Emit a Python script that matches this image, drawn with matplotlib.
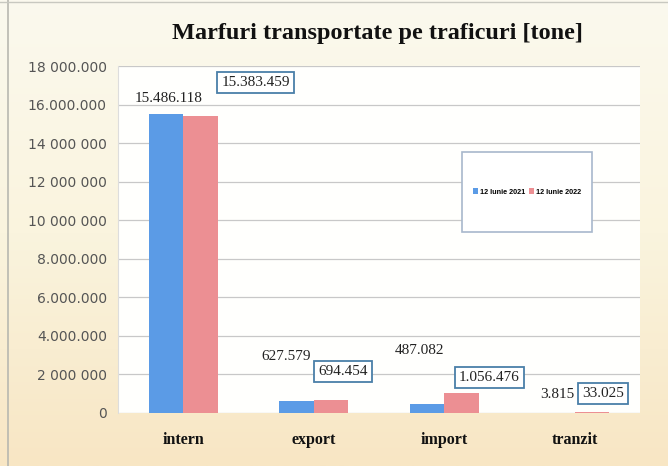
import matplotlib
matplotlib.use("Agg")
import matplotlib.pyplot as plt
import numpy as np
from matplotlib.colors import LinearSegmentedColormap
from matplotlib.patches import Rectangle

categories = ["intern", "export", "import", "tranzit"]
series_names = ["12 Iunie 2021", "12 Iunie 2022"]
values_2021 = [15486118, 627579, 487082, 3815]
values_2022 = [15383459, 694454, 1056476, 33025]
labels_2021 = ["15.486.118", "627.579", "487.082", "3.815"]
labels_2022 = ["15.383.459", "694.454", "1.056.476", "33.025"]
yticks = [0, 2000000, 4000000, 6000000, 8000000, 10000000, 12000000, 14000000, 16000000, 18000000]
ytick_labels = ["0", "2 000 000", "4.000.000", "6.000.000", "8.000.000",
                "10 000 000", "12 000 000", "14 000 000", "16.000.000", "18 000.000"]
title = "Marfuri transportate pe traficuri [tone]"

# label offsets in pixels (style)
off_2021 = [(3, 16), (-10, 44), (-7, 53), (0, 18)]
off_2022 = [(55, 34), (12, 28), (28, 15), (11, 19)]

blue = "#5b9be6"
red = "#ec8f93"

fig = plt.figure(figsize=(6.68, 4.66), dpi=100)

# background gradient
bg = fig.add_axes([0, 0, 1, 1], zorder=-10)
cmap = LinearSegmentedColormap.from_list("bg", ["#fbf9ee", "#faf4de", "#f8e6c4"])
grad = np.linspace(0, 1, 256).reshape(-1, 1)
bg.imshow(grad, aspect="auto", cmap=cmap, extent=[0, 1, 0, 1], origin="upper")
bg.axvline(0.012, color="#b8b8b0", lw=1.2)
bg.axhline(0.995, color="#c8c8c0", lw=1.0)
bg.set_xlim(0, 1); bg.set_ylim(0, 1)
bg.axis("off")

ax = fig.add_axes([118/668, 1-413/466, 522/668, 347/466])
ax.set_facecolor("#fffffd")
x = np.arange(len(categories))
w = 0.265
ax.bar(x - w/2, values_2021, w, color=blue, label=series_names[0], zorder=3)
ax.bar(x + w/2, values_2022, w, color=red, label=series_names[1], zorder=3)

ax.set_xlim(-0.5, len(categories) - 0.5)
ax.set_ylim(0, 18000000)
ax.set_yticks(yticks)
ax.set_yticklabels(ytick_labels, fontsize=10, color="#555555", family="DejaVu Sans")
ax.set_xticks(x)
ax.set_xticklabels(categories, fontsize=11.5, fontweight="bold", family="Liberation Serif", color="#111111")
ax.tick_params(axis="both", length=0, pad=8)
ax.tick_params(axis="x", pad=14)
ax.yaxis.grid(True, color="#c8c8c8", lw=0.9, zorder=0)
for s in ax.spines.values():
    s.set_visible(False)
ax.spines["left"].set_visible(True)
ax.spines["left"].set_color("#dddddd")

for i in range(len(categories)):
    ax.annotate(labels_2021[i], xy=(x[i] - w/2, values_2021[i]), xytext=off_2021[i],
                textcoords="offset pixels", ha="center", va="center",
                fontsize=11, family="Liberation Serif", color="#222222", zorder=5)
    ax.annotate(labels_2022[i], xy=(x[i] + w/2, values_2022[i]), xytext=off_2022[i],
                textcoords="offset pixels", ha="center", va="center",
                fontsize=11, family="Liberation Serif", color="#222222", zorder=5,
                bbox=dict(boxstyle="square,pad=0.25", fc="white", ec="#4a7fa8", lw=1.3))

# legend box
lx, ly, lw_, lh = 0.659, 0.5216, 0.249, 0.2305
ax.add_patch(Rectangle((lx, ly), lw_, lh, transform=ax.transAxes, fc="white",
                       ec="#a8b8cc", lw=1.2, zorder=6))
leg = ax.legend(loc="center", bbox_to_anchor=(lx + lw_/2, ly + lh/2),
                ncol=2, prop=dict(family="Liberation Sans", weight="bold", size=5.2),
                handlelength=0.7, handleheight=0.7, handletextpad=0.25, columnspacing=0.6,
                borderpad=0, frameon=False, borderaxespad=0)
leg.set_zorder(7)

fig.text(0.565, 1-33/466, title, ha="center", va="center", fontsize=17.5,
         fontweight="bold", family="Liberation Serif", color="#111111")

fig.savefig("out.png", dpi=100)
